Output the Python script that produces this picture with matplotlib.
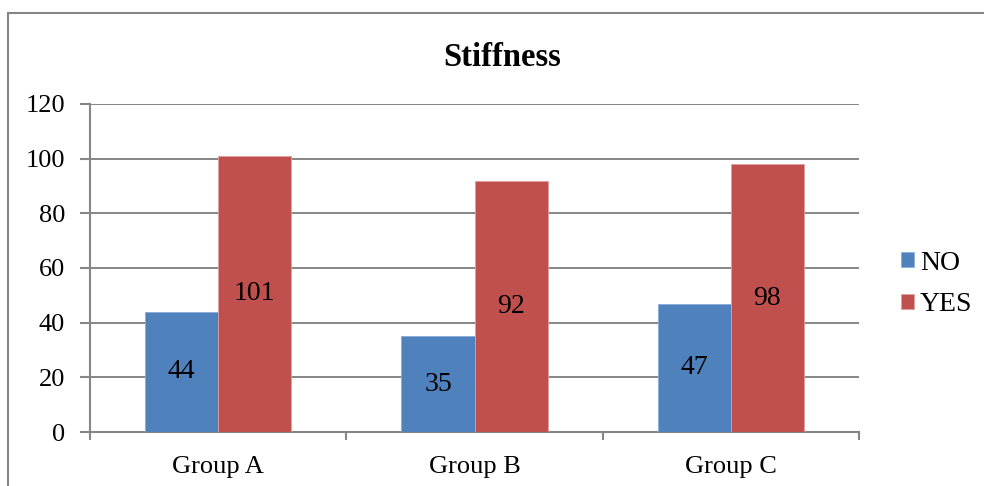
import matplotlib.pyplot as plt
import numpy as np
from matplotlib.patches import Rectangle

plt.rcParams['font.family'] = ['Liberation Serif', 'DejaVu Serif']

groups = ["Group A", "Group B", "Group C"]
no_vals = [44, 35, 47]
yes_vals = [101, 92, 98]

blue = "#4F81BD"
red = "#C0504D"
grid_c = "#868686"

fig = plt.figure(figsize=(9.84, 4.86), dpi=100)
# outer chart frame
fig.patches.append(Rectangle((8/984, -0.1), 1.2, (486-13)/486 + 0.1, transform=fig.transFigure,
                             fill=False, edgecolor=grid_c, linewidth=1.5))

ax = fig.add_axes([90/984, 54/486, (859-90)/984, (432-104)/486])
x = np.arange(len(groups))
w = 0.285
b1 = ax.bar(x - w/2, no_vals, w, color=blue, edgecolor="#8EAADB", linewidth=0.6, label="NO", zorder=3)
b2 = ax.bar(x + w/2, yes_vals, w, color=red, edgecolor="#E0A0A0", linewidth=0.6, label="YES", zorder=3)

for bars, vals in ((b1, no_vals), (b2, yes_vals)):
    for r, v in zip(bars, vals):
        ax.text(r.get_x() + r.get_width()/2, v/2, str(v), ha="center", va="center",
                fontsize=20, zorder=4)

ax.set_xlim(-0.5, 2.5)
ax.set_ylim(0, 120)
ax.set_yticks(range(0, 121, 20))
ax.yaxis.grid(True, color=grid_c, linewidth=1.4, zorder=0)
ax.set_axisbelow(True)
ax.set_xticks(x)
ax.set_xticklabels(groups)
ax.set_xticks([-0.5, 0.5, 1.5, 2.5], minor=True)
ax.tick_params(axis="x", which="major", length=0, labelsize=19, pad=17)
ax.tick_params(axis="x", which="minor", length=6, width=1.5, color=grid_c)
ax.tick_params(axis="y", length=7, width=1.5, color=grid_c, labelsize=19, pad=11)
for s in ("top", "right"):
    ax.spines[s].set_visible(False)
for s in ("left", "bottom"):
    ax.spines[s].set_color(grid_c)
    ax.spines[s].set_linewidth(1.5)

ax.set_title("Stiffness", fontsize=23.5, fontweight="bold", pad=27, x=(502-90)/(859-90))

ax.legend(loc="center left", bbox_to_anchor=(901/984, (486-284)/486), bbox_transform=fig.transFigure,
          frameon=False, fontsize=20, handlelength=0.47, handleheight=0.47, handletextpad=0.22,
          labelspacing=0.6, borderpad=0, borderaxespad=0)

fig.savefig("out.png", dpi=100)
